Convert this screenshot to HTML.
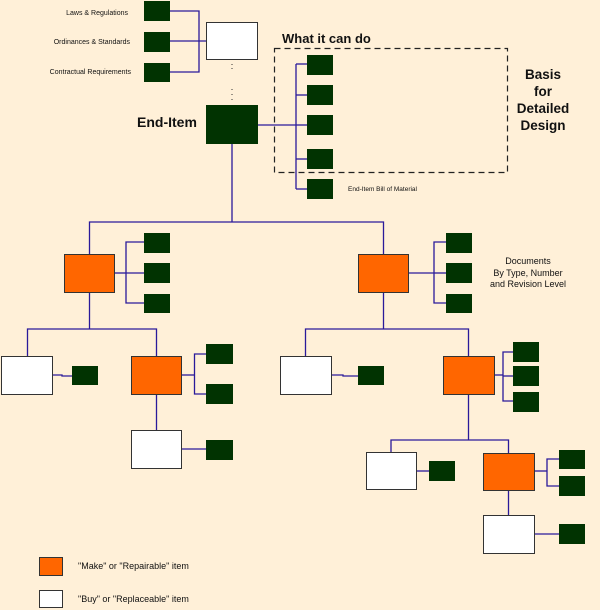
<!DOCTYPE html>
<html><head><meta charset="utf-8"><style>
html,body{margin:0;padding:0;background:#fff0d8;}
svg{display:block;}
text{font-family:"Liberation Sans",sans-serif;fill:#111;}
</style></head><body>
<svg width="600" height="610" viewBox="0 0 600 610" xmlns="http://www.w3.org/2000/svg">
<rect width="600" height="610" fill="#fff0d8"/>
<g stroke="#2a1a9a" stroke-width="1.3" fill="none">
<!-- top inputs -->
<polyline points="170,11 199,11 199,72 170,72"/>
<line x1="170" y1="41" x2="206" y2="41"/>
<!-- end item to right bus -->
<line x1="258" y1="125" x2="296" y2="125"/>
<line x1="296" y1="64" x2="296" y2="189"/>
<line x1="296" y1="64" x2="307" y2="64"/>
<line x1="296" y1="95" x2="307" y2="95"/>
<line x1="296" y1="125" x2="307" y2="125"/>
<line x1="296" y1="159" x2="307" y2="159"/>
<line x1="296" y1="189" x2="307" y2="189"/>
<!-- end item down -->
<line x1="232" y1="144" x2="232" y2="222"/>
<polyline points="89.5,254 89.5,222 383.5,222 383.5,254"/>
<!-- left orange docs -->
<line x1="115" y1="273" x2="126" y2="273"/>
<polyline points="144,242 126,242 126,303 144,303"/><line x1="126" y1="273" x2="144" y2="273"/>
<!-- right orange docs -->
<line x1="409" y1="273" x2="434" y2="273"/>
<polyline points="446,242 434,242 434,303 446,303"/><line x1="434" y1="273" x2="446" y2="273"/>
<!-- level 3 left -->
<line x1="89.5" y1="292" x2="89.5" y2="329"/>
<polyline points="27.5,356 27.5,329 156.5,329 156.5,356"/>
<polyline points="53,375 62,375 62,376 72,376"/>
<line x1="182" y1="375" x2="194.5" y2="375"/>
<polyline points="206,354 194.5,354 194.5,394 206,394"/>
<line x1="156.5" y1="394" x2="156.5" y2="430"/>
<line x1="182" y1="449" x2="206" y2="449"/>
<!-- level 3 right -->
<line x1="383.5" y1="292" x2="383.5" y2="329"/>
<polyline points="305.5,356 305.5,329 468.5,329 468.5,356"/>
<polyline points="332,375 343,375 343,376 358,376"/>
<line x1="495" y1="375" x2="503" y2="375"/>
<polyline points="513,352 503,352 503,401 513,401"/><line x1="503" y1="376" x2="513" y2="376"/>
<line x1="468.5" y1="394" x2="468.5" y2="440"/>
<polyline points="391,452 391,440 508.5,440 508.5,453"/>
<line x1="417" y1="471" x2="429" y2="471"/>
<line x1="535" y1="471" x2="547" y2="471"/>
<polyline points="559,459 547,459 547,486 559,486"/>
<line x1="508.5" y1="490" x2="508.5" y2="515"/>
<line x1="535" y1="534" x2="559" y2="534"/>
</g>
<!-- dots -->
<g fill="#333"><rect x="231.5" y="64" width="1" height="1"/><rect x="231.5" y="68" width="1" height="1"/><rect x="231.5" y="89" width="1" height="1"/><rect x="231.5" y="94" width="1" height="1"/><rect x="231.5" y="99" width="1" height="1"/></g>
<!-- dashed box -->
<rect x="274.5" y="48.5" width="233" height="124" fill="none" stroke="#222" stroke-width="1.2" stroke-dasharray="6,4"/>
<!-- dark boxes -->
<g fill="#013301">
<rect x="144" y="1" width="26" height="20"/><rect x="144" y="32" width="26" height="20"/><rect x="144" y="63" width="26" height="19"/>
<rect x="206" y="105" width="52" height="39"/>
<rect x="307" y="55" width="26" height="20"/><rect x="307" y="85" width="26" height="20"/><rect x="307" y="115" width="26" height="20"/><rect x="307" y="149" width="26" height="20"/><rect x="307" y="179" width="26" height="20"/>
<rect x="144" y="233" width="26" height="20"/><rect x="144" y="263" width="26" height="20"/><rect x="144" y="294" width="26" height="19"/>
<rect x="446" y="233" width="26" height="20"/><rect x="446" y="263" width="26" height="20"/><rect x="446" y="294" width="26" height="19"/>
<rect x="72" y="366" width="26" height="19"/>
<rect x="206" y="344" width="27" height="20"/><rect x="206" y="384" width="27" height="20"/><rect x="206" y="440" width="27" height="20"/>
<rect x="358" y="366" width="26" height="19"/>
<rect x="513" y="342" width="26" height="20"/><rect x="513" y="366" width="26" height="20"/><rect x="513" y="392" width="26" height="20"/>
<rect x="429" y="461" width="26" height="20"/>
<rect x="559" y="450" width="26" height="19"/><rect x="559" y="476" width="26" height="20"/><rect x="559" y="524" width="26" height="20"/>
</g>
<!-- white / orange boxes -->
<g stroke="#333" stroke-width="1">
<rect x="206.5" y="22.5" width="51" height="37" fill="#fff"/>
<rect x="64.5" y="254.5" width="50" height="38" fill="#ff6600"/>
<rect x="358.5" y="254.5" width="50" height="38" fill="#ff6600"/>
<rect x="1.5" y="356.5" width="51" height="38" fill="#fff"/>
<rect x="131.5" y="356.5" width="50" height="38" fill="#ff6600"/>
<rect x="131.5" y="430.5" width="50" height="38" fill="#fff"/>
<rect x="280.5" y="356.5" width="51" height="38" fill="#fff"/>
<rect x="443.5" y="356.5" width="51" height="38" fill="#ff6600"/>
<rect x="366.5" y="452.5" width="50" height="37" fill="#fff"/>
<rect x="483.5" y="453.5" width="51" height="37" fill="#ff6600"/>
<rect x="483.5" y="515.5" width="51" height="38" fill="#fff"/>
<rect x="39.5" y="557.5" width="23" height="18" fill="#ff6600"/>
<rect x="39.5" y="590.5" width="23" height="17" fill="#fff"/>
</g>
<!-- text -->
<g font-size="7" text-anchor="end">
<text x="128" y="15">Laws &amp; Regulations</text>
<text x="130" y="44">Ordinances &amp; Standards</text>
<text x="131" y="74">Contractual Requirements</text>
</g>
<text x="137" y="127" font-size="14" font-weight="bold">End-Item</text>
<text x="282" y="43" font-size="13" font-weight="bold">What it can do</text>
<g font-size="13.5" font-weight="bold" text-anchor="middle">
<text x="543" y="79">Basis</text><text x="543" y="96">for</text><text x="543" y="113">Detailed</text><text x="543" y="130">Design</text>
</g>
<text x="348" y="191" font-size="6.5">End-Item Bill of Material</text>
<g font-size="9" text-anchor="middle">
<text x="528" y="264">Documents</text><text x="528" y="276">By Type, Number</text><text x="528" y="287">and Revision Level</text>
</g>
<text x="78" y="569" font-size="9">"Make" or "Repairable" item</text>
<text x="78" y="602" font-size="9">"Buy" or "Replaceable" item</text>
</svg>
</body></html>
